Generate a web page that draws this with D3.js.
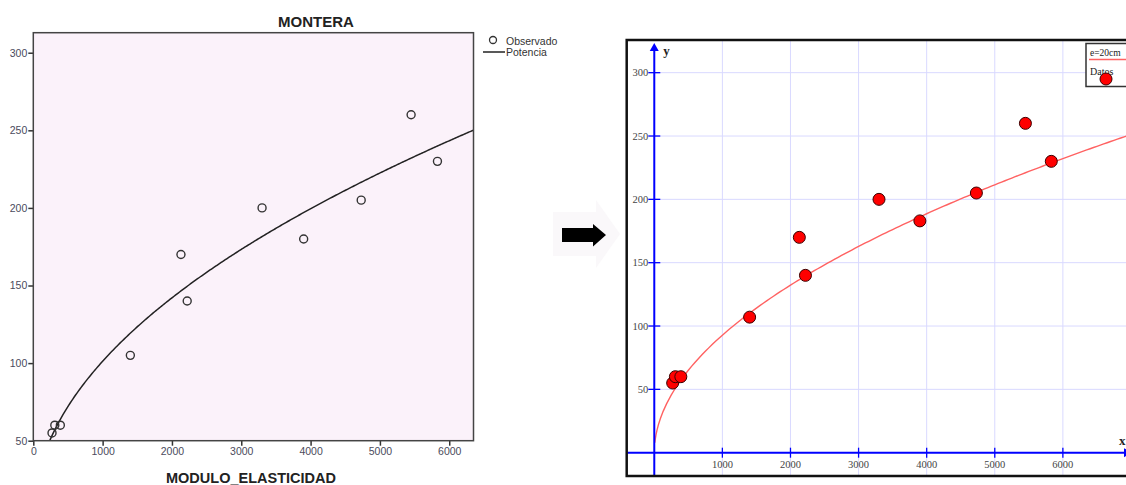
<!DOCTYPE html>
<html>
<head>
<meta charset="utf-8">
<script src="https://cdn.jsdelivr.net/npm/d3@7"></script>
<style>
  body { margin: 0; background: #fff; }
  svg { display: block; }
</style>
</head>
<body>
<svg id="chart" width="1126" height="485"></svg>
<script>
// Módulo de elasticidad (x) and the measured values at each sample
const moduloElasticidad = [270, 310, 390, 1400, 2130, 2220, 3300, 3900, 4730, 5450, 5830];
const observado        = [55, 60, 60, 105, 170, 140, 200, 180, 205, 260, 230];
const datos            = [55, 60, 60, 107, 170, 140, 200, 183, 205, 260, 230];

// Tick values for both panels
const xTicksLeft  = [0, 1000, 2000, 3000, 4000, 5000, 6000];
const yTicksLeft  = [50, 100, 150, 200, 250, 300];
const xTicksRight = [1000, 2000, 3000, 4000, 5000, 6000];
const yTicksRight = [50, 100, 150, 200, 250, 300];

// Model curve for e = 20 cm: y = a * x^b
const modelo20cm = { a: 2.70, b: 0.512 };

const svg = d3.select("#chart");
svg.append("rect").attr("width", 1126).attr("height", 485).attr("fill", "#fff");

/* ---------------- Left panel: observed values with power fit ---------------- */
const L = { left: 33.3, right: 473.5, top: 32.7, bottom: 440.7 };
const xL = d3.scaleLinear().domain([0, 6350]).range([L.left, L.right]);
const yL = d3.scaleLinear().domain([50, 312.9]).range([L.bottom, L.top]);

// least-squares fit of ln(y) = ln(a) + b ln(x)
function powerFit(xs, ys) {
  const lx = xs.map(Math.log), ly = ys.map(Math.log);
  const mx = d3.mean(lx), my = d3.mean(ly);
  const b = d3.sum(lx, (v, i) => (v - mx) * (ly[i] - my)) / d3.sum(lx, v => (v - mx) * (v - mx));
  return { a: Math.exp(my - b * mx), b };
}
const potencia = powerFit(moduloElasticidad, observado);

const left = svg.append("g");
left.append("rect")
  .attr("x", L.left).attr("y", L.top)
  .attr("width", L.right - L.left).attr("height", L.bottom - L.top)
  .attr("fill", "#fbf2fa");

left.append("clipPath").attr("id", "clipL")
  .append("rect")
  .attr("x", L.left).attr("y", L.top)
  .attr("width", L.right - L.left).attr("height", L.bottom - L.top);

const styleAxisL = g => {
  g.select(".domain").remove();
  g.selectAll(".tick line").attr("stroke", "#333").attr("stroke-width", 1.5);
  g.selectAll(".tick text")
    .attr("fill", "#4b4b5c")
    .style("font-family", "Arial, 'Liberation Sans', sans-serif")
    .style("font-size", "10.5px");
};

left.append("g")
  .attr("transform", `translate(${L.left},0)`)
  .call(d3.axisLeft(yL).tickValues(yTicksLeft).tickFormat(d3.format("d")).tickSize(5).tickPadding(1))
  .call(styleAxisL);

left.append("g")
  .attr("transform", `translate(0,${L.bottom})`)
  .call(d3.axisBottom(xL).tickValues(xTicksLeft).tickFormat(d3.format("d")).tickSize(5).tickPadding(2))
  .call(styleAxisL);

// fitted curve
const fitLine = d3.line()
  .x(d => xL(d))
  .y(d => yL(potencia.a * Math.pow(d, potencia.b)));
left.append("path")
  .datum(d3.range(150, 6400, 20))
  .attr("clip-path", "url(#clipL)")
  .attr("d", fitLine)
  .attr("fill", "none")
  .attr("stroke", "#222")
  .attr("stroke-width", 1.5);

// observed points
left.append("g")
  .selectAll("circle")
  .data(moduloElasticidad)
  .join("circle")
  .attr("cx", d => xL(d))
  .attr("cy", (d, i) => yL(observado[i]))
  .attr("r", 4)
  .attr("fill", "none")
  .attr("stroke", "#333")
  .attr("stroke-width", 1.4);

left.append("rect")
  .attr("x", L.left).attr("y", L.top)
  .attr("width", L.right - L.left).attr("height", L.bottom - L.top)
  .attr("fill", "none")
  .attr("stroke", "#444")
  .attr("stroke-width", 1.5);

left.append("text")
  .attr("x", 316).attr("y", 27)
  .attr("text-anchor", "middle")
  .style("font-family", "Arial, 'Liberation Sans', sans-serif")
  .style("font-weight", "bold")
  .style("font-size", "15px")
  .attr("fill", "#222")
  .text("MONTERA");

left.append("text")
  .attr("x", 251).attr("y", 483)
  .attr("text-anchor", "middle")
  .style("font-family", "Arial, 'Liberation Sans', sans-serif")
  .style("font-weight", "bold")
  .style("font-size", "14.5px")
  .attr("fill", "#222")
  .text("MODULO_ELASTICIDAD");

// legend
const legL = left.append("g")
  .style("font-family", "Arial, 'Liberation Sans', sans-serif")
  .style("font-size", "10.5px")
  .attr("fill", "#333");
legL.append("circle").attr("cx", 493).attr("cy", 40).attr("r", 3.5)
  .attr("fill", "none").attr("stroke", "#333").attr("stroke-width", 1.3);
legL.append("text").attr("x", 506).attr("y", 44.5).text("Observado");
legL.append("line").attr("x1", 483).attr("x2", 505).attr("y1", 52).attr("y2", 52)
  .attr("stroke", "#222").attr("stroke-width", 1.5);
legL.append("text").attr("x", 506).attr("y", 56).text("Potencia");

/* ---------------- Arrow between the panels ---------------- */
svg.append("path")
  .attr("d", "M553,212 H596 V200 L620,234 L596,268 V256 H553 Z")
  .attr("fill", "#faf8fa");
svg.append("path")
  .attr("d", "M562,228 H593 V224 L606,235 L593,246.5 V242 H562 Z")
  .attr("fill", "#000");

/* ---------------- Right panel: model e = 20 cm with data ---------------- */
const R = { left: 626.7, right: 1126, top: 40, bottom: 476 };
const xR = d3.scaleLinear().domain([-405, 6927]).range([R.left, R.right]);
const yR = d3.scaleLinear().domain([-18.4, 325.8]).range([R.bottom, R.top]);
const x0 = xR(0), y0 = yR(0);

const right = svg.append("g");
right.append("clipPath").attr("id", "clipR")
  .append("rect")
  .attr("x", R.left).attr("y", R.top)
  .attr("width", R.right - R.left).attr("height", R.bottom - R.top);

const grid = right.append("g").attr("stroke", "#d9d9ff").attr("stroke-width", 1);
grid.selectAll("line.v").data(xTicksRight).join("line")
  .attr("class", "v")
  .attr("x1", d => xR(d)).attr("x2", d => xR(d))
  .attr("y1", R.top).attr("y2", R.bottom);
grid.selectAll("line.h").data(yTicksRight).join("line")
  .attr("class", "h")
  .attr("x1", x0).attr("x2", R.right)
  .attr("y1", d => yR(d)).attr("y2", d => yR(d));

// model curve
const modelLine = d3.line()
  .x(d => xR(d))
  .y(d => yR(modelo20cm.a * Math.pow(d, modelo20cm.b)));
right.append("path")
  .datum([8, 15, 25, 40, 60, 90, 130, 180, 250].concat(d3.range(300, 7100, 50)))
  .attr("clip-path", "url(#clipR)")
  .attr("d", modelLine)
  .attr("fill", "none")
  .attr("stroke", "#ff6262")
  .attr("stroke-width", 1.4);

// blue axes
const blue = "#0000ff";
right.append("line")
  .attr("x1", R.left).attr("x2", R.right).attr("y1", y0).attr("y2", y0)
  .attr("stroke", blue).attr("stroke-width", 2);
right.append("line")
  .attr("x1", x0).attr("x2", x0).attr("y1", R.bottom).attr("y2", R.top + 8)
  .attr("stroke", blue).attr("stroke-width", 2);
right.append("path")
  .attr("d", `M${x0},${R.top + 3} L${x0 - 4.5},${R.top + 11} L${x0 + 4.5},${R.top + 11} Z`)
  .attr("fill", blue);
right.append("path")
  .attr("d", `M${R.right + 6},${y0} L${R.right - 2},${y0 - 4.5} L${R.right - 2},${y0 + 4.5} Z`)
  .attr("fill", blue);

// ticks crossing the axes
right.append("g").selectAll("line").data(yTicksRight).join("line")
  .attr("x1", x0 - 6).attr("x2", x0 + 6)
  .attr("y1", d => yR(d)).attr("y2", d => yR(d))
  .attr("stroke", blue).attr("stroke-width", 1.3);
right.append("g").selectAll("line").data(xTicksRight).join("line")
  .attr("x1", d => xR(d)).attr("x2", d => xR(d))
  .attr("y1", y0 - 5).attr("y2", y0 + 5)
  .attr("stroke", blue).attr("stroke-width", 1.3);

const serif = "'Times New Roman', 'Liberation Serif', serif";
right.append("g").selectAll("text").data(yTicksRight).join("text")
  .attr("x", x0 - 6).attr("y", d => yR(d) + 3.5)
  .attr("text-anchor", "end")
  .style("font-family", serif).style("font-size", "10.5px")
  .attr("fill", "#444")
  .text(d => d);
right.append("g").selectAll("text").data(xTicksRight).join("text")
  .attr("x", d => xR(d)).attr("y", y0 + 15)
  .attr("text-anchor", "middle")
  .style("font-family", serif).style("font-size", "10.5px")
  .attr("fill", "#444")
  .text(d => d);

right.append("text").attr("x", x0 + 9).attr("y", 55)
  .style("font-family", serif).style("font-size", "13px").style("font-weight", "bold")
  .attr("fill", "#222").text("y");
right.append("text").attr("x", 1119).attr("y", 445)
  .style("font-family", serif).style("font-size", "13px").style("font-weight", "bold")
  .attr("fill", "#222").text("x");

// data points
right.append("g").attr("clip-path", "url(#clipR)")
  .selectAll("circle")
  .data(moduloElasticidad)
  .join("circle")
  .attr("cx", d => xR(d))
  .attr("cy", (d, i) => yR(datos[i]))
  .attr("r", 6)
  .attr("fill", "#ff0000")
  .attr("stroke", "#3a0000")
  .attr("stroke-width", 1);

// legend box
const legR = right.append("g");
legR.append("rect")
  .attr("x", 1086).attr("y", 43.5).attr("width", 60).attr("height", 43)
  .attr("fill", "#fff").attr("stroke", "#333").attr("stroke-width", 1.5);
legR.append("text").attr("x", 1090).attr("y", 56)
  .style("font-family", serif).style("font-size", "9.5px")
  .attr("fill", "#222").text("e=20cm");
legR.append("line").attr("x1", 1089).attr("x2", 1126).attr("y1", 59.5).attr("y2", 59.5)
  .attr("stroke", "#ff6262").attr("stroke-width", 1.4);
legR.append("text").attr("x", 1090).attr("y", 75)
  .style("font-family", serif).style("font-size", "10px")
  .attr("fill", "#222").text("Datos");
legR.append("circle").attr("cx", 1106).attr("cy", 79).attr("r", 6)
  .attr("fill", "#ff0000").attr("stroke", "#3a0000").attr("stroke-width", 1);

// frame
right.append("path")
  .attr("d", `M${R.right},${R.top} H${R.left} V${R.bottom} H${R.right}`)
  .attr("fill", "none")
  .attr("stroke", "#111")
  .attr("stroke-width", 2.5);
</script>
</body>
</html>
